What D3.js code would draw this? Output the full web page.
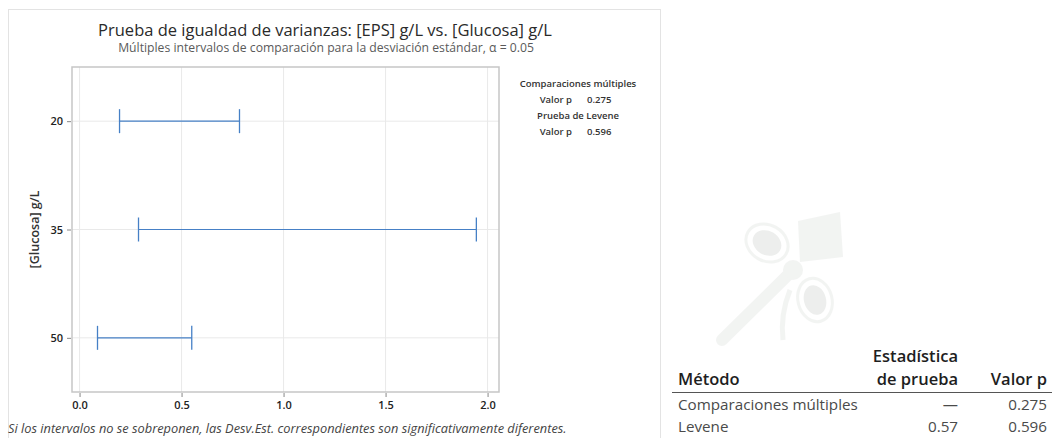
<!DOCTYPE html>
<html>
<head>
<meta charset="utf-8">
<script src="https://cdn.jsdelivr.net/npm/d3@7"></script>
<style>
  html, body { margin: 0; padding: 0; background: #fff; }
  svg { display: block; }
  text { font-family: "Open Sans", "Noto Sans", sans-serif; }
</style>
</head>
<body>
<svg id="chart" width="1052" height="438"></svg>
<script>
// Factor levels of [Glucosa] g/L
const groups = [20, 35, 50];
// Comparison intervals for the standard deviation of [EPS] g/L
const lowerSD = [0.196, 0.289, 0.088];
const upperSD = [0.784, 1.945, 0.550];
// Axis ticks
const xTicks = [0.0, 0.5, 1.0, 1.5, 2.0];
// Test summary
const methods = ["Comparaciones múltiples", "Levene"];
const statistic = ["—", "0.57"];
const pValues = ["0.275", "0.596"];

const svg = d3.select("#chart");

// ---- chart panel ----
svg.append("rect")
  .attr("x", 8.5).attr("y", 9.5).attr("width", 652).attr("height", 440)
  .attr("fill", "#fff").attr("stroke", "#e3e3e3").attr("stroke-width", 1);

svg.append("text")
  .attr("x", 325).attr("y", 36).attr("text-anchor", "middle")
  .attr("font-size", 16.5).attr("fill", "#2a2a2a")
  .text("Prueba de igualdad de varianzas: [EPS] g/L vs. [Glucosa] g/L");

svg.append("text")
  .attr("x", 326).attr("y", 52).attr("text-anchor", "middle")
  .attr("font-size", 12.2).attr("fill", "#5a5a5a")
  .text("Múltiples intervalos de comparación para la desviación estándar, α = 0.05");

const plot = { left: 72, top: 67, right: 499, bottom: 392 };

const x = d3.scaleLinear().domain([-0.037, 2.056]).range([plot.left, plot.right]);
const y = d3.scalePoint().domain(groups).range([plot.top, plot.bottom]).padding(0.5);

const g = svg.append("g");

// gridlines
g.selectAll("line.vgrid").data(xTicks).join("line")
  .attr("class", "vgrid")
  .attr("x1", d => x(d)).attr("x2", d => x(d))
  .attr("y1", plot.top).attr("y2", plot.bottom)
  .attr("stroke", "#e9e9e9").attr("stroke-width", 1);
g.selectAll("line.hgrid").data(groups).join("line")
  .attr("class", "hgrid")
  .attr("x1", plot.left).attr("x2", plot.right)
  .attr("y1", d => y(d)).attr("y2", d => y(d))
  .attr("stroke", "#e9e9e9").attr("stroke-width", 1);

// frame
g.append("rect")
  .attr("x", plot.left).attr("y", plot.top)
  .attr("width", plot.right - plot.left).attr("height", plot.bottom - plot.top)
  .attr("fill", "none").attr("stroke", "#c6c6c6").attr("stroke-width", 1.5);

// axes
const xAxis = d3.axisBottom(x).tickValues(xTicks).tickFormat(d3.format(".1f")).tickSize(4).tickPadding(4);
const xg = svg.append("g").attr("transform", `translate(0,${plot.bottom + 1})`).call(xAxis);
xg.select(".domain").remove();
xg.selectAll(".tick line").attr("stroke", "#888");
xg.selectAll(".tick text").attr("font-size", 11).attr("font-weight", 600).attr("fill", "#222")
  .attr("font-family", "'Open Sans', sans-serif");

const yAxis = d3.axisLeft(y).tickSize(4).tickPadding(4);
const yg = svg.append("g").attr("transform", `translate(${plot.left - 1},0)`).call(yAxis);
yg.select(".domain").remove();
yg.selectAll(".tick line").attr("stroke", "#888");
yg.selectAll(".tick text").attr("font-size", 11).attr("font-weight", 600).attr("fill", "#222")
  .attr("font-family", "'Open Sans', sans-serif");

svg.append("text")
  .attr("transform", `translate(39,${(plot.top + plot.bottom) / 2}) rotate(-90)`)
  .attr("text-anchor", "middle").attr("font-size", 12.5).attr("font-weight", 600).attr("fill", "#333")
  .text("[Glucosa] g/L");

// intervals
const blue = "#4680c6";
const rows = groups.map((gv, i) => ({ g: gv, lo: lowerSD[i], hi: upperSD[i] }));
const iv = svg.append("g").selectAll("g").data(rows).join("g");
iv.append("line")
  .attr("x1", d => x(d.lo)).attr("x2", d => x(d.hi))
  .attr("y1", d => y(d.g)).attr("y2", d => y(d.g))
  .attr("stroke", blue).attr("stroke-width", 1.2);
iv.append("line")
  .attr("x1", d => x(d.lo)).attr("x2", d => x(d.lo))
  .attr("y1", d => y(d.g) - 12).attr("y2", d => y(d.g) + 12)
  .attr("stroke", blue).attr("stroke-width", 1.3);
iv.append("line")
  .attr("x1", d => x(d.hi)).attr("x2", d => x(d.hi))
  .attr("y1", d => y(d.g) - 12).attr("y2", d => y(d.g) + 12)
  .attr("stroke", blue).attr("stroke-width", 1.3);

// side legend with p-values
const legend = [
  ["Comparaciones múltiples", null],
  ["Valor p", pValues[0]],
  ["Prueba de Levene", null],
  ["Valor p", pValues[1]]
];
const lg = svg.append("g").attr("font-size", 9.5).attr("fill", "#333").attr("font-weight", 600);
legend.forEach((row, i) => {
  const yy = 87 + i * 16;
  if (row[1] === null) {
    lg.append("text").attr("x", 578).attr("y", yy).attr("text-anchor", "middle").text(row[0]);
  } else {
    lg.append("text").attr("x", 572).attr("y", yy).attr("text-anchor", "end").text(row[0]);
    lg.append("text").attr("x", 587).attr("y", yy).attr("text-anchor", "start").text(row[1]);
  }
});

// footnote
svg.append("text")
  .attr("x", 8).attr("y", 433)
  .attr("font-size", 12.8).attr("font-style", "italic").attr("fill", "#444")
  .text("Si los intervalos no se sobreponen, las Desv.Est. correspondientes son significativamente diferentes.");

// ---- faint emblem behind the table ----
const wm = svg.append("g").attr("opacity", 0.28);
const wmFill = "#d4d8d4";
wm.append("line").attr("x1", 793).attr("y1", 270).attr("x2", 722).attr("y2", 340)
  .attr("stroke", wmFill).attr("stroke-width", 12).attr("stroke-linecap", "round");
wm.append("path").attr("d", "M790,290 Q780,315 783,340").attr("fill", "none")
  .attr("stroke", wmFill).attr("stroke-width", 5);
wm.append("ellipse").attr("cx", 767).attr("cy", 243).attr("rx", 22).attr("ry", 18)
  .attr("transform", "rotate(30,767,243)").attr("fill", "none").attr("stroke", wmFill).attr("stroke-width", 3);
wm.append("ellipse").attr("cx", 767).attr("cy", 243).attr("rx", 15).attr("ry", 12)
  .attr("transform", "rotate(30,767,243)").attr("fill", "#bfc4bf");
wm.append("ellipse").attr("cx", 815).attr("cy", 300).attr("rx", 17).attr("ry", 22)
  .attr("transform", "rotate(-15,815,300)").attr("fill", "none").attr("stroke", wmFill).attr("stroke-width", 3);
wm.append("ellipse").attr("cx", 815).attr("cy", 300).attr("rx", 11).attr("ry", 15)
  .attr("transform", "rotate(-15,815,300)").attr("fill", "#bfc4bf");
wm.append("circle").attr("cx", 793).attr("cy", 270).attr("r", 10).attr("fill", wmFill);
wm.append("path").attr("d", "M798,221 L840,212 L843,257 L800,262 Z").attr("fill", wmFill);

// ---- summary table ----
const tb = svg.append("g");
const colX = { name: 678, stat: 958, p: 1047 };
const head = { size: 16.5, weight: 600, fill: "#1e1e1e" };
tb.append("text").attr("x", colX.stat).attr("y", 361.5).attr("text-anchor", "end")
  .attr("font-size", head.size).attr("font-weight", head.weight).attr("fill", head.fill).text("Estadística");
tb.append("text").attr("x", colX.name).attr("y", 385)
  .attr("font-size", head.size).attr("font-weight", head.weight).attr("fill", head.fill).text("Método");
tb.append("text").attr("x", colX.stat).attr("y", 385).attr("text-anchor", "end")
  .attr("font-size", head.size).attr("font-weight", head.weight).attr("fill", head.fill).text("de prueba");
tb.append("text").attr("x", colX.p).attr("y", 385).attr("text-anchor", "end")
  .attr("font-size", head.size).attr("font-weight", head.weight).attr("fill", head.fill).text("Valor p");
tb.append("line").attr("x1", 672).attr("x2", 1052).attr("y1", 392.5).attr("y2", 392.5)
  .attr("stroke", "#555").attr("stroke-width", 1);
methods.forEach((m, i) => {
  const yy = 410 + i * 22;
  tb.append("text").attr("x", colX.name).attr("y", yy).attr("font-size", 15.2).attr("fill", "#4a4a4a").text(m);
  tb.append("text").attr("x", colX.stat).attr("y", yy).attr("text-anchor", "end").attr("font-size", 15.2).attr("fill", "#4a4a4a").text(statistic[i]);
  tb.append("text").attr("x", colX.p).attr("y", yy).attr("text-anchor", "end").attr("font-size", 15.2).attr("fill", "#4a4a4a").text(pValues[i]);
});
</script>
</body>
</html>
